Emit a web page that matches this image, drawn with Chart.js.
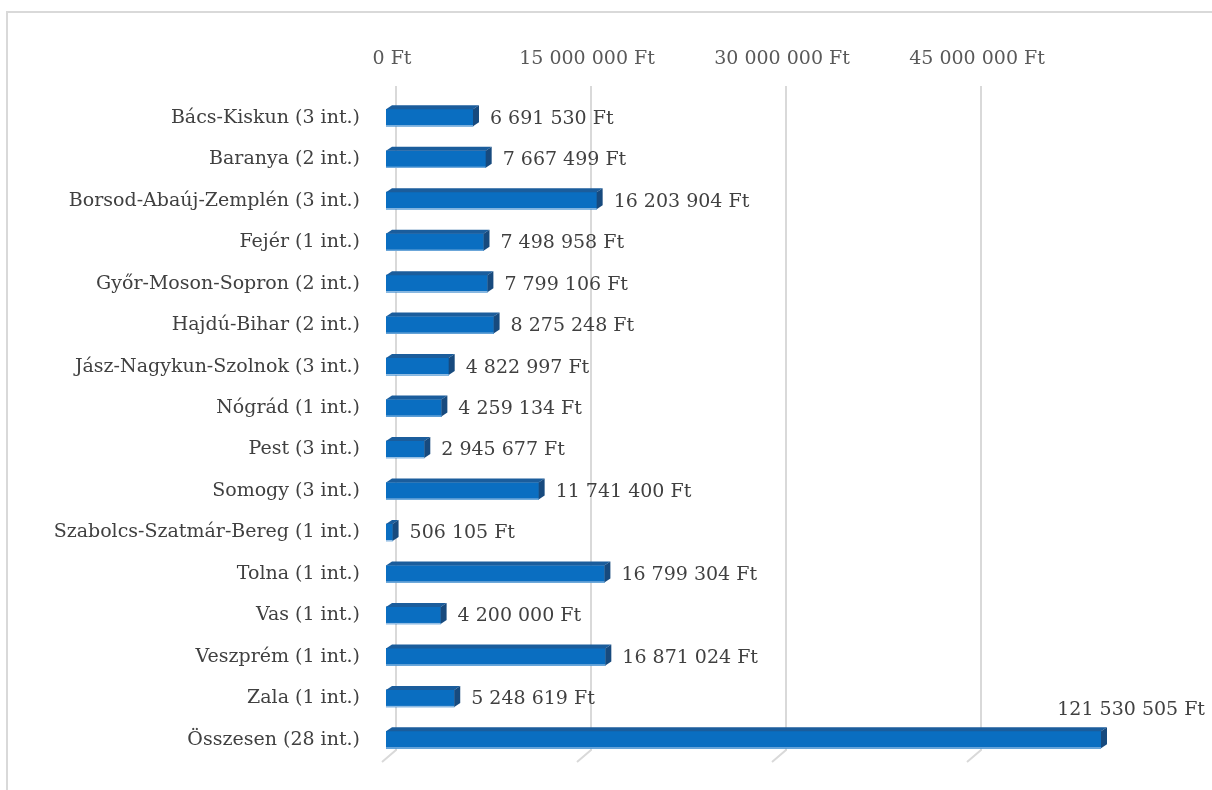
<!DOCTYPE html>
<html>
<head>
<meta charset="utf-8">
<script src="https://cdn.jsdelivr.net/npm/chart.js@4.4.1/dist/chart.umd.min.js"></script>
<style>
  html, body { margin: 0; padding: 0; background: #fff; }
  #wrap { position: relative; width: 1212px; height: 790px; }
</style>
</head>
<body>
<div id="wrap"><canvas id="barchart"></canvas></div>
<script>
const categories = [
    "Bács-Kiskun (3 int.)", "Baranya (2 int.)", "Borsod-Abaúj-Zemplén (3 int.)",
    "Fejér (1 int.)", "Győr-Moson-Sopron (2 int.)", "Hajdú-Bihar (2 int.)",
    "Jász-Nagykun-Szolnok (3 int.)", "Nógrád (1 int.)", "Pest (3 int.)",
    "Somogy (3 int.)", "Szabolcs-Szatmár-Bereg (1 int.)", "Tolna (1 int.)",
    "Vas (1 int.)", "Veszprém (1 int.)", "Zala (1 int.)", "Összesen (28 int.)"
];
const amounts = [
    6691530, 7667499, 16203904, 7498958, 7799106, 8275248, 4822997, 4259134,
    2945677, 11741400, 506105, 16799304, 4200000, 16871024, 5248619, 121530505
];
const tickValues = [0, 15000000, 30000000, 45000000];
const axisMax = 55000000;

const FONT = "'DejaVu Serif', 'Liberation Serif', serif";
const DEPTH_X = 6, DEPTH_Y = 4;     // bar depth
const WALL_X = 10;                  // back wall offset for grid lines

function ft(v) {
    return String(v).replace(/\B(?=(\d{3})+(?!\d))/g, " ") + " Ft";
}

// grid lines on the back wall, with the little floor bend at the bottom
const wallGrid = {
    id: "wallGrid",
    beforeDatasetsDraw(chart) {
        const ctx = chart.ctx, x = chart.scales.x;
        ctx.save();
        ctx.strokeStyle = "#d9d9d9";
        ctx.lineWidth = 2;
        tickValues.forEach(v => {
            const px = x.getPixelForValue(v) + WALL_X;
            ctx.beginPath();
            ctx.moveTo(px, 86);
            ctx.lineTo(px, 750);
            ctx.lineTo(px - 14, 762);
            ctx.stroke();
        });
        ctx.restore();
    }
};

// top and side faces of the bars + value labels
const bar3d = {
    id: "bar3d",
    afterDatasetsDraw(chart) {
        const ctx = chart.ctx, area = chart.chartArea;
        const meta = chart.getDatasetMeta(0);
        ctx.save();
        meta.data.forEach((bar, i) => {
            const right = Math.min(bar.x, area.right);
            const left = bar.base;
            const top = bar.y - bar.height / 2;
            const bottom = bar.y + bar.height / 2;
            // top face
            ctx.fillStyle = "#1b5d9c";
            ctx.beginPath();
            ctx.moveTo(left, top);
            ctx.lineTo(left + DEPTH_X, top - DEPTH_Y);
            ctx.lineTo(right + DEPTH_X, top - DEPTH_Y);
            ctx.lineTo(right, top);
            ctx.closePath();
            ctx.fill();
            // side face
            ctx.fillStyle = "#174a7e";
            ctx.beginPath();
            ctx.moveTo(right, top);
            ctx.lineTo(right + DEPTH_X, top - DEPTH_Y);
            ctx.lineTo(right + DEPTH_X, bottom - DEPTH_Y);
            ctx.lineTo(right, bottom);
            ctx.closePath();
            ctx.fill();
            // bottom highlight
            ctx.fillStyle = "#9dc3e6";
            ctx.fillRect(left, bottom - 1, right - left, 1);

            ctx.fillStyle = "#404040";
            ctx.font = "19px " + FONT;
            ctx.textBaseline = "middle";
            if (bar.x > area.right) {
                ctx.textAlign = "right";
                ctx.fillText(ft(amounts[i]), 1205, bar.y - 30);
            } else {
                ctx.textAlign = "left";
                ctx.fillText(ft(amounts[i]), right + 17, bar.y + 1);
            }
        });
        ctx.restore();
    }
};

// chart frame (top and left edges only)
const frame = {
    id: "frame",
    beforeDraw(chart) {
        const ctx = chart.ctx;
        ctx.save();
        ctx.strokeStyle = "#d9d9d9";
        ctx.lineWidth = 2;
        ctx.beginPath();
        ctx.moveTo(7, 790);
        ctx.lineTo(7, 12);
        ctx.lineTo(1212, 12);
        ctx.stroke();
        ctx.restore();
    }
};

new Chart(document.getElementById("barchart"), {
    type: "bar",
    data: {
        labels: categories,
        datasets: [{
            data: amounts,
            backgroundColor: "#0a6ec1",
            borderWidth: 0,
            barThickness: 17
        }]
    },
    options: {
        indexAxis: "y",
        responsive: true,
        maintainAspectRatio: false,
        animation: false,
        layout: { padding: { top: 0, right: 111, bottom: 20, left: 20 } },
        scales: {
            x: {
                position: "top",
                min: 0,
                max: axisMax,
                afterBuildTicks: axis => { axis.ticks = tickValues.map(v => ({ value: v })); },
                afterFit: axis => { axis.height = 97; },
                grid: { display: false },
                border: { display: false },
                ticks: {
                    color: "#595959",
                    font: { family: FONT, size: 19 },
                    padding: 19,
                    labelOffset: 6,
                    maxRotation: 0,
                    callback: v => ft(v)
                }
            },
            y: {
                afterFit: axis => { axis.width = 366; },
                grid: { display: false },
                border: { display: false },
                ticks: {
                    color: "#404040",
                    font: { family: FONT, size: 19 },
                    padding: 18,
                    autoSkip: false
                }
            }
        },
        plugins: {
            legend: { display: false },
            tooltip: { enabled: false }
        }
    },
    plugins: [frame, wallGrid, bar3d]
});
</script>
</body>
</html>
